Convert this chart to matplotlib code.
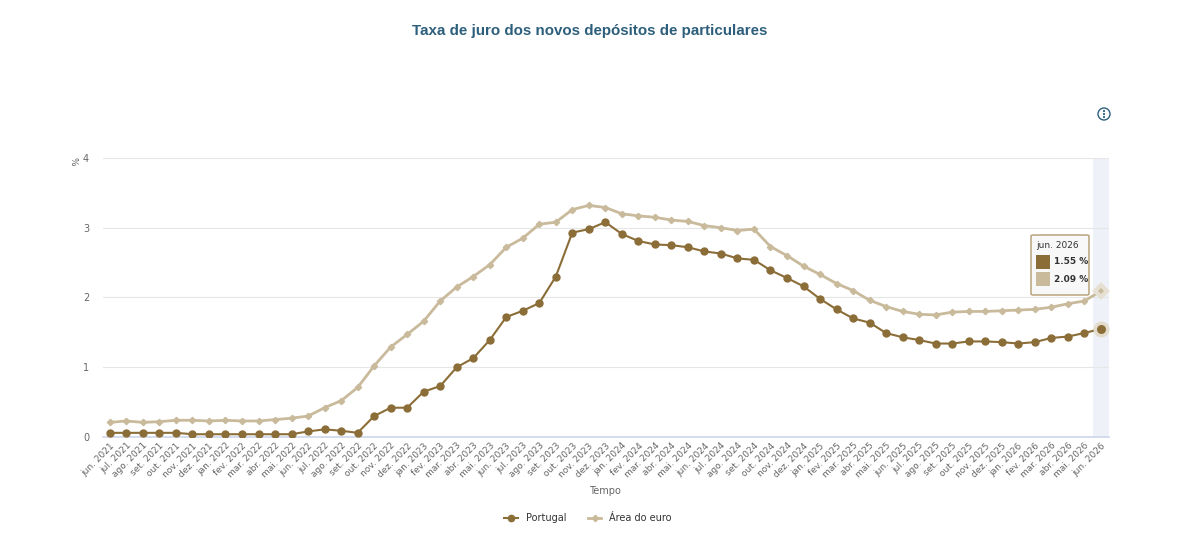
import matplotlib.pyplot as plt
from matplotlib.patches import Circle, FancyBboxPatch, Rectangle
from matplotlib.lines import Line2D

# months jun. 2021 .. jun. 2026
month_names = ["jan.", "fev.", "mar.", "abr.", "mai.", "jun.", "jul.",
               "ago.", "set.", "out.", "nov.", "dez."]
labels = [f"{month_names[(5 + i) % 12]} {2021 + (5 + i) // 12}" for i in range(61)]

portugal = [0.06, 0.06, 0.06, 0.06, 0.06, 0.04, 0.04, 0.04, 0.04, 0.04,
            0.04, 0.04, 0.08, 0.11, 0.09, 0.06, 0.30, 0.42, 0.42, 0.65,
            0.73, 1.00, 1.13, 1.39, 1.72, 1.81, 1.92, 2.30, 2.93, 2.98,
            3.08, 2.91, 2.81, 2.76, 2.75, 2.72, 2.66, 2.63, 2.56, 2.54,
            2.39, 2.28, 2.16, 1.98, 1.83, 1.70, 1.64, 1.49, 1.43, 1.39,
            1.34, 1.34, 1.37, 1.37, 1.36, 1.34, 1.36, 1.42, 1.44, 1.49,
            1.55]
euro = [0.21, 0.23, 0.21, 0.22, 0.24, 0.24, 0.23, 0.24, 0.23, 0.23,
        0.25, 0.27, 0.30, 0.42, 0.52, 0.71, 1.02, 1.29, 1.47, 1.66,
        1.95, 2.15, 2.30, 2.47, 2.72, 2.85, 3.05, 3.08, 3.26, 3.32,
        3.29, 3.20, 3.17, 3.15, 3.11, 3.09, 3.03, 3.00, 2.96, 2.98,
        2.73, 2.60, 2.45, 2.33, 2.20, 2.10, 1.96, 1.87, 1.80, 1.76,
        1.75, 1.79, 1.80, 1.80, 1.81, 1.82, 1.83, 1.86, 1.91, 1.95,
        2.09]

c_pt = "#8B6D38"
c_eu = "#C9BA9C"
c_txt = "#666666"

fig = plt.figure(figsize=(12, 5.41), dpi=100)
ax = fig.add_axes([0.0858, 0.1922, 0.8384, 0.5158])

x = list(range(len(labels)))
ax.axvspan(59.5, 60.5, color="#EEF2F8", zorder=0, lw=0)

ax.plot(x, euro, color=c_eu, lw=2, marker="D", ms=3.2, zorder=3)
ax.plot(x, portugal, color=c_pt, lw=1.5, marker="o", ms=5, zorder=4)
# highlighted last points
ax.plot(x[-1], euro[-1], marker="D", ms=6, color=c_eu, mec="#E6E0D3", mew=3, zorder=5)
ax.plot(x[-1], portugal[-1], marker="o", ms=9, color=c_pt, mec="#E3DCCD", mew=2.5, zorder=5)

ax.set_xlim(-0.42, 60.5)
ax.set_ylim(0, 4)
ax.set_yticks([0, 1, 2, 3, 4])
ax.set_xticks(x)
ax.set_xticklabels(labels, rotation=45, ha="right", rotation_mode="anchor",
                   fontsize=6.5, color=c_txt)
ax.tick_params(axis="y", labelsize=7, colors=c_txt, length=0, pad=10)
ax.tick_params(axis="x", length=0, pad=3)
ax.grid(axis="y", color="#E6E6E6", lw=0.8)
ax.set_axisbelow(True)
for s in ["top", "right", "left"]:
    ax.spines[s].set_visible(False)
ax.spines["bottom"].set_color("#CCD6EB")
ax.spines["bottom"].set_linewidth(1.2)

fig.text(0.4917, 0.943, "Taxa de juro dos novos depósitos de particulares",
         ha="center", va="center", fontsize=10.9, fontweight="bold",
         color="#2D5F7C", family="Liberation Sans")
fig.text(0.5042, 0.092, "Tempo", ha="center", va="center", fontsize=7, color=c_txt)
fig.text(0.061, 0.701, "%", ha="center", va="center", fontsize=6.5,
         color=c_txt, rotation=-90)

# legend
handles = [Line2D([], [], color=c_pt, lw=1.5, marker="o", ms=4.5),
           Line2D([], [], color=c_eu, lw=2, marker="D", ms=3.2)]
fig.legend(handles, ["Portugal", "Área do euro"], loc="center",
           bbox_to_anchor=(0.49, 0.042), ncol=2, frameon=False,
           fontsize=7, handlelength=1.4, columnspacing=2.2,
           labelcolor="#333333")

# tooltip
tx0, ty0 = 1031 / 1200, 1 - 295 / 541
tw, th = 58 / 1200, 60 / 541
fig.patches.append(FancyBboxPatch((tx0, ty0), tw, th,
                                  boxstyle="round,pad=0,rounding_size=0.002",
                                  transform=fig.transFigure, fc="#F8F8F8",
                                  ec="#B39C70", lw=1, zorder=10))
fig.text(1036 / 1200, 1 - 246 / 541, "jun. 2026", fontsize=6.5,
         color="#333333", va="center", zorder=11)
for k, (val, col) in enumerate([(portugal[-1], c_pt), (euro[-1], c_eu)]):
    yc = 262 + 17 * k
    fig.patches.append(Rectangle((1036 / 1200, 1 - (yc + 7) / 541),
                                 14 / 1200, 14 / 541,
                                 transform=fig.transFigure, fc=col,
                                 ec="none", zorder=11))
    fig.text(1054 / 1200, 1 - yc / 541, f"{val:.2f} %", fontsize=6.5,
             color="#333333", va="center", fontweight="bold", zorder=11)

# menu icon (drawn in inches so it stays round)
cx, cy = 11.04, (541 - 114) / 100
fig.patches.append(Circle((cx, cy), 0.06, transform=fig.dpi_scale_trans,
                          fc="white", ec="#2D5F7C", lw=1))
for dy in (-0.03, 0, 0.03):
    fig.patches.append(Circle((cx, cy + dy), 0.011,
                              transform=fig.dpi_scale_trans,
                              fc="#2D5F7C", ec="none"))

fig.savefig("out.png", dpi=100)
